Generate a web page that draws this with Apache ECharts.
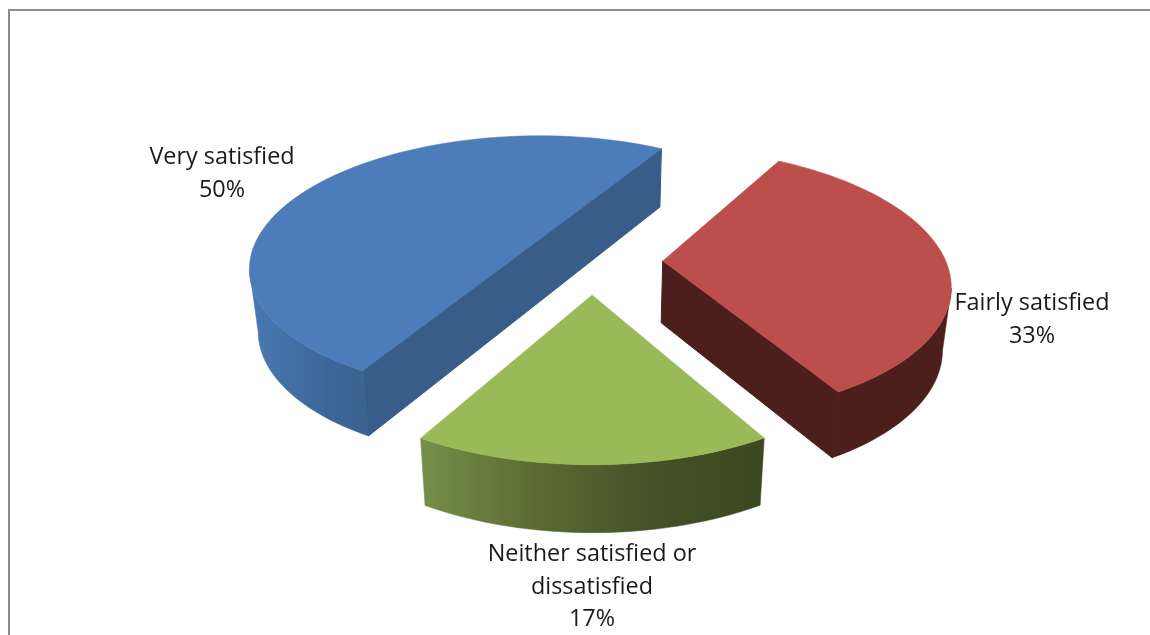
<!DOCTYPE html>
<html><head><meta charset="utf-8">
<style>html,body{margin:0;padding:0;background:#fff}#c{width:1150px;height:635px}</style>
<script src="https://cdn.jsdelivr.net/npm/echarts@6/dist/echarts.min.js"></script>
</head><body><div id="c"></div>
<script>
// Data
const categories = ['Very satisfied', 'Fairly satisfied', 'Neither satisfied or\ndissatisfied'];
const shares = [50, 33.3, 16.7];

// Layout and style of the tilted, exploded pie
const startAngle = 210;              // clockwise from the top
const proj = {cx: 592, cy: 261, A: 283, B: 131, k: 0.157};
const extrude = {vx: 600, sx: 0.975, sy: 1.03, dy: 54};
const explode = [0.25, 0.25, 0.25];
const topColors = ['#4c7cb9', '#bc4f4c', '#9aba59'];
const radialColors = ['#385d88', '#4c1e1c', '#3e4a20'];
const outerColors = [
  ['#4a79b4', '#436fa5', '#3d6698', '#3a6391'],
  ['#4c1e1c', '#4c1e1c'],
  ['#758f48', '#5a6c33', '#445226', '#3c4820']
];
const labelPos = [[222, 174], [1032, 320], [592, 587]];

function top3d(u, v) {
  const w = 1 - proj.k * v;
  return [proj.cx + proj.A * u / w, proj.cy + proj.B * v / w];
}
function lower(p) {
  return [extrude.vx + (p[0] - extrude.vx) * extrude.sx, p[1] * extrude.sy + extrude.dy];
}
function rimPoint(c, deg) {
  const a = deg * Math.PI / 180;
  return top3d(c[0] + Math.sin(a), c[1] - Math.cos(a));
}
function arc(c, a0, a1) {
  const pts = [], n = Math.max(2, Math.ceil(Math.abs(a1 - a0) / 2));
  for (let i = 0; i <= n; i++) pts.push(rimPoint(c, a0 + (a1 - a0) * i / n));
  return pts;
}
// angles of the disc's left and right silhouette on screen
function silhouette(c) {
  let lo = 90, hi = 270;
  for (let d = 0; d < 360; d += 0.5) {
    const x = rimPoint(c, d)[0];
    if (x > rimPoint(c, lo)[0]) lo = d;
    if (x < rimPoint(c, hi)[0]) hi = d;
  }
  return [lo, hi];
}
const total = shares.reduce((s, x) => s + x, 0);

function renderItem(params, api) {
  const i = params.dataIndex;
  let a0 = startAngle;
  for (let j = 0; j < i; j++) a0 += shares[j] / total * 360;
  a0 = a0 % 360;
  const a1 = a0 + api.value(0) / total * 360;
  const mid = (a0 + a1) / 2;
  const mr = mid * Math.PI / 180;
  const c = [explode[i] * Math.sin(mr), -explode[i] * Math.cos(mr)];
  const apex = top3d(c[0], c[1]);
  const rim = arc(c, a0, a1);
  const inner = rimPoint(c, mid);
  const side = (p, q, r) => (q[0] - p[0]) * (r[1] - p[1]) - (q[1] - p[1]) * (r[0] - p[0]);
  const children = [];
  [rim[0], rim[rim.length - 1]].forEach(q => {
    // a straight wall shows only if "down" points away from the slice's own top
    const down = [apex[0], apex[1] + 10];
    if (side(apex, q, down) * side(apex, q, inner) < 0) {
      children.push({
        type: 'polygon', shape: {points: [apex, q, lower(q), lower(apex)]},
        style: {fill: radialColors[i], stroke: radialColors[i], lineWidth: 1}
      });
    }
  });
  // the visible part of the curved wall: between the disc's silhouette points
  const sil = silhouette(c);
  const nearLo = Math.max(a0, sil[0]), nearHi = Math.min(a1, sil[1]);
  if (nearHi > nearLo) {
    const wall = arc(c, nearLo, nearHi);
    const pts = wall.concat(wall.map(lower).reverse());
    const cols = outerColors[i];
    const grad = {type: 'linear', x: 0, y: 0, x2: 1, y2: 0,
      colorStops: cols.map((col, k) => ({offset: k / (cols.length - 1), color: col}))};
    children.push({
      type: 'polygon', shape: {points: pts},
      style: {fill: grad, stroke: grad, lineWidth: 0.5}
    });
  }
  children.push({
    type: 'polygon', shape: {points: [apex].concat(rim)},
    style: {fill: topColors[i], stroke: topColors[i], lineWidth: 0.5}
  });
  children.push({
    type: 'text',
    style: {
      x: labelPos[i][0], y: labelPos[i][1],
      text: categories[i] + '\n' + Math.round(api.value(0)) + '%',
      fill: '#1a1a1a', font: '23.4px "Open Sans"', align: 'center', verticalAlign: 'middle',
      lineHeight: 32.5
    }
  });
  return {type: 'group', children: children};
}

const chart = echarts.init(document.getElementById('c'), null, {renderer: 'canvas'});
chart.setOption({
  backgroundColor: '#ffffff',
  animation: false,
  graphic: [
    {type: 'rect', shape: {x: 8, y: 9, width: 1142, height: 2}, style: {fill: '#8c8c8c'}},
    {type: 'rect', shape: {x: 8, y: 9, width: 2, height: 626}, style: {fill: '#8c8c8c'}}
  ],
  series: [{
    type: 'custom',
    coordinateSystem: 'none',
    renderItem: renderItem,
    data: shares.map((v, i) => ({name: categories[i], value: [v]}))
  }]
});
</script></body></html>
